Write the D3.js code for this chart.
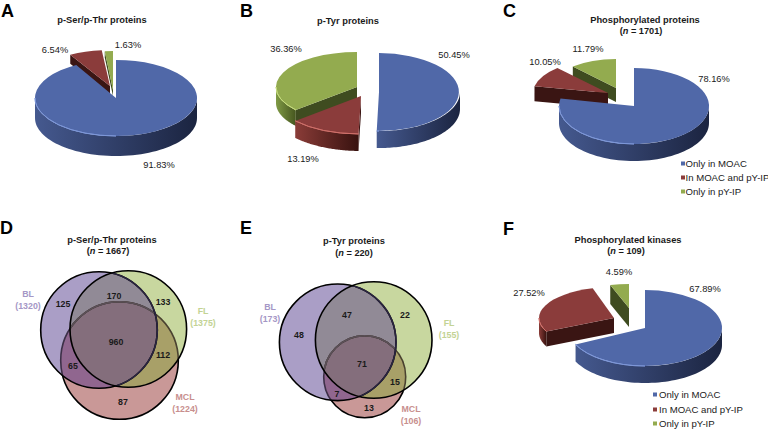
<!DOCTYPE html>
<html><head><meta charset="utf-8">
<script src="https://cdnjs.cloudflare.com/ajax/libs/d3/7.8.5/d3.min.js"></script>
<style>
html,body{margin:0;padding:0;background:#fff}
svg{display:block}
text{font-family:"Liberation Sans",Arial,sans-serif;fill:#1a1a1a}
</style></head><body>
<svg id="c" width="768" height="429"></svg>
<script>
// ---------- data ----------
const legendLabels = ["Only in MOAC", "In MOAC and pY-IP", "Only in pY-IP"];
const pieA = [91.83, 6.54, 1.63];
const pieB = [50.45, 13.19, 36.36];
const pieC = [78.16, 10.05, 11.79];
const pieF = [67.89, 27.52, 4.59];
const vennLabels = ["BL", "FL", "MCL"];
const vennDTotals = [1320, 1375, 1224];
const vennETotals = [173, 155, 106];
// regions: BL only, BL+FL, FL only, all, BL+MCL, FL+MCL, MCL only
const vennDCounts = [125, 170, 133, 960, 65, 112, 87];
const vennECounts = [48, 47, 22, 71, 7, 15, 13];

// ---------- style / layout ----------
const top3 = ["#5068a8", "#8b3c3b", "#93ab4f"];
const face3 = ["#1f2a47", "#3a1513", "#3f4c20"];
const wall3 = [["#45598f", "#1b2440"], ["#8a3c38", "#38120f"], ["#7f9a45", "#46561f"]];
const rim3 = ["#7d97d8", "#d0706a", "#c6dc7c"];

const svg = d3.select("#c");
const defs = svg.append("defs");
const pieGen = d3.pie().sort(null).value(d => d);
const unitArc = d3.arc().innerRadius(0).outerRadius(1);
const rimArc = d3.arc().innerRadius(1).outerRadius(1);
const wallLine = d3.line();
let gid = 0;

function pie3d(values, geo, order) {
  const arcs = pieGen(values);
  order.forEach(i => {
    const a = arcs[i], g = geo[i];
    const px = t => g.cx + g.rx * Math.sin(t), py = t => g.cy - g.ry * Math.cos(t);
    const grp = svg.append("g");
    // radial face that looks at the viewer
    const s = a.startAngle;
    if (Math.sin(s) < -0.001) {
      grp.append("path").attr("fill", face3[i]).attr("d", wallLine([
        [g.cx, g.cy], [px(s), py(s)], [px(s), py(s) + g.d], [g.cx, g.cy + g.d]]) + "Z");
    }
    // outer wall (front half only)
    const a0 = Math.max(a.startAngle, Math.PI / 2), a1 = Math.min(a.endAngle, Math.PI * 1.5);
    if (a1 > a0) {
      const id = "w" + (gid++);
      const lg = defs.append("linearGradient").attr("id", id).attr("gradientUnits", "userSpaceOnUse")
        .attr("x1", Math.min(px(a1), px(a0))).attr("x2", Math.max(px(a1), px(a0))).attr("y1", 0).attr("y2", 0);
      lg.append("stop").attr("offset", 0).attr("stop-color", wall3[i][0]);
      lg.append("stop").attr("offset", 1).attr("stop-color", wall3[i][1]);
      const ts = d3.range(0, 61).map(k => a0 + (a1 - a0) * k / 60);
      const pts = ts.map(t => [px(t), py(t)]).concat(ts.slice().reverse().map(t => [px(t), py(t) + g.d]));
      grp.append("path").attr("fill", `url(#${id})`).attr("d", wallLine(pts) + "Z");
    }
    // top surface
    const tr = `translate(${g.cx},${g.cy}) scale(${g.rx},${g.ry})`;
    grp.append("path").attr("transform", tr).attr("fill", top3[i]).attr("d", unitArc(a));
    const r0 = Math.max(a0, Math.PI);
    if (a1 > r0) {
      grp.append("path").attr("transform", tr).attr("fill", "none").attr("stroke", rim3[i])
        .attr("stroke-width", 1).attr("stroke-opacity", 0.85).attr("vector-effect", "non-scaling-stroke")
        .attr("d", rimArc({startAngle: r0, endAngle: a1}));
    }
  });
}

function label(x, y, t, o = {}) {
  const n = svg.append("text").attr("x", x).attr("y", y).attr("text-anchor", o.anchor || "middle")
    .attr("font-size", o.size || 9.3).attr("font-weight", o.bold ? "bold" : "normal").text(t);
  if (o.fill) n.style("fill", o.fill);
  return n;
}
function nLabel(x, y, n) {
  const t = svg.append("text").attr("x", x).attr("y", y).attr("text-anchor", "middle")
    .attr("font-size", 9.2).attr("font-weight", "bold");
  t.append("tspan").text("(");
  t.append("tspan").attr("font-style", "italic").text("n");
  t.append("tspan").text(" = " + n + ")");
}
function legend(sq, tx, ys) {
  legendLabels.forEach((l, i) => {
    svg.append("rect").attr("x", sq).attr("y", ys[i] - 5.5).attr("width", 4).attr("height", 4).attr("fill", top3[i]);
    label(tx, ys[i], l, {anchor: "start", size: 9.6});
  });
}
const pct = v => v.toFixed(2) + "%";

// ---------- pies ----------
pie3d(pieA, [
  {cx: 116, cy: 98, rx: 81, ry: 38, d: 20},
  {cx: 110, cy: 86, rx: 81, ry: 36, d: 9},
  {cx: 113, cy: 90, rx: 81, ry: 39, d: 6}], [1, 2, 0]);
pie3d(pieB, [
  {cx: 379, cy: 92, rx: 81, ry: 39, d: 17},
  {cx: 361, cy: 96, rx: 87, ry: 38, d: 17},
  {cx: 357, cy: 87, rx: 81, ry: 35, d: 16}], [2, 1, 0]);
pie3d(pieC, [
  {cx: 634, cy: 106, rx: 75, ry: 38, d: 17},
  {cx: 608, cy: 93, rx: 75, ry: 34, d: 15},
  {cx: 616, cy: 88, rx: 64, ry: 29, d: 14}], [2, 1, 0]);
pie3d(pieF, [
  {cx: 645, cy: 328, rx: 77, ry: 38, d: 17},
  {cx: 614, cy: 318, rx: 75, ry: 31, d: 15},
  {cx: 629, cy: 308, rx: 66, ry: 24, d: 19}], [1, 2, 0]);

// ---------- venns ----------
const vc = {bl: "#aa9ec6", fl: "#c8d79f", mcl: "#c99897",
  blfl: "#918a96", all: "#846e7c", blmcl: "#90668f", flmcl: "#a8a068"};
function venn(circles, key) {
  const [b, f, m] = circles;
  const circ = (sel, c) => sel.append("circle").attr("cx", c.x).attr("cy", c.y).attr("r", c.r);
  const clip = (name, c, parent) => {
    const cp = defs.append("clipPath").attr("id", key + name);
    if (parent) cp.attr("clip-path", `url(#${key}${parent})`);
    circ(cp, c);
    return `url(#${key}${name})`;
  };
  const cb = clip("b", b), cf = clip("f", f);
  const cbf = clip("bf", f, "b");
  const g = svg.append("g");
  const sw = 1.6;
  circ(g, m).attr("fill", vc.mcl).attr("stroke", "#000").attr("stroke-width", sw);
  circ(g, b).attr("fill", vc.bl);
  circ(g, f).attr("fill", vc.fl);
  circ(g, f).attr("fill", vc.blfl).attr("clip-path", cb);
  circ(g, m).attr("fill", vc.blmcl).attr("clip-path", cb);
  circ(g, m).attr("fill", vc.flmcl).attr("clip-path", cf);
  circ(g, m).attr("fill", vc.all).attr("clip-path", cbf);
  circ(g, m).attr("fill", "none").attr("stroke", "#3d3048").attr("stroke-width", sw).attr("clip-path", cb);
  circ(g, m).attr("fill", "none").attr("stroke", "#4a4230").attr("stroke-width", sw).attr("clip-path", cf);
  circ(g, m).attr("fill", "none").attr("stroke", "#5b5058").attr("stroke-width", sw).attr("clip-path", cbf);
  circ(g, b).attr("fill", "none").attr("stroke", "#000").attr("stroke-width", sw);
  circ(g, b).attr("fill", "none").attr("stroke", "#2a2540").attr("stroke-width", sw).attr("clip-path", cf);
  circ(g, f).attr("fill", "none").attr("stroke", "#000").attr("stroke-width", sw);
}
venn([{x: 99, y: 330, r: 58.3}, {x: 128.3, y: 329, r: 58.3}, {x: 119.5, y: 360.5, r: 58.8}], "d");
venn([{x: 337.7, y: 342.3, r: 58.3}, {x: 373.7, y: 340, r: 58.3}, {x: 364.7, y: 376.7, r: 41}], "e");

function countLabels(vals, pos) {
  vals.forEach((v, i) => label(pos[i][0], pos[i][1] + 3, v, {bold: true, size: 8.8}));
}
countLabels(vennDCounts, [[63, 304], [114, 296], [163, 302], [116, 342], [73, 366], [163, 355], [123, 402]]);
countLabels(vennECounts, [[299, 335], [347, 315], [405, 315], [362, 364], [337, 394], [395, 382], [369, 408]]);

function setLabels(names, totals, pos) {
  const cols = ["#a597c6", "#c3d394", "#c88f8e"];
  names.forEach((n, i) => {
    label(pos[i][0], pos[i][1], n, {bold: true, size: 8.8, fill: cols[i]});
    label(pos[i][0], pos[i][1] + 11.5, `(${totals[i]})`, {bold: true, size: 8.8, fill: cols[i]});
  });
}
setLabels(vennLabels, vennDTotals, [[28, 297], [203, 314], [185, 400]]);
setLabels(vennLabels, vennETotals, [[270, 310], [449, 326], [411, 412]]);

// ---------- texts ----------
[["A", 1, 16.5], ["B", 240, 16.5], ["C", 503, 17], ["D", 0, 234], ["E", 240, 234], ["F", 503, 235]]
  .forEach(([t, x, y]) => { label(x, y, t, {anchor: "start", size: 18, bold: true}).style("fill", "#000"); });

label(102, 23, "p-Ser/p-Thr proteins", {bold: true, size: 9.3});
label(348, 24, "p-Tyr proteins", {bold: true, size: 9.3});
label(645, 23, "Phosphorylated proteins", {bold: true, size: 9.3});
nLabel(641, 34, 1701);
label(112, 243, "p-Ser/p-Thr proteins", {bold: true, size: 9.3});
nLabel(108, 254, 1667);
label(354, 244, "p-Tyr proteins", {bold: true, size: 9.3});
nLabel(354, 256, 220);
label(628, 243, "Phosphorylated kinases", {bold: true, size: 9.3});
nLabel(626, 254, 109);

label(159, 168, pct(pieA[0])); label(55, 53, pct(pieA[1])); label(128, 48, pct(pieA[2]));
label(454, 58, pct(pieB[0])); label(303, 162, pct(pieB[1])); label(286, 52, pct(pieB[2]));
label(714, 82, pct(pieC[0])); label(545, 65, pct(pieC[1])); label(588, 52, pct(pieC[2]));
label(705, 292, pct(pieF[0])); label(529, 296, pct(pieF[1])); label(619, 275, pct(pieF[2]));

legend(681, 685.5, [167, 181, 195]);
legend(653, 659, [398, 413, 427]);
</script>
</body></html>
